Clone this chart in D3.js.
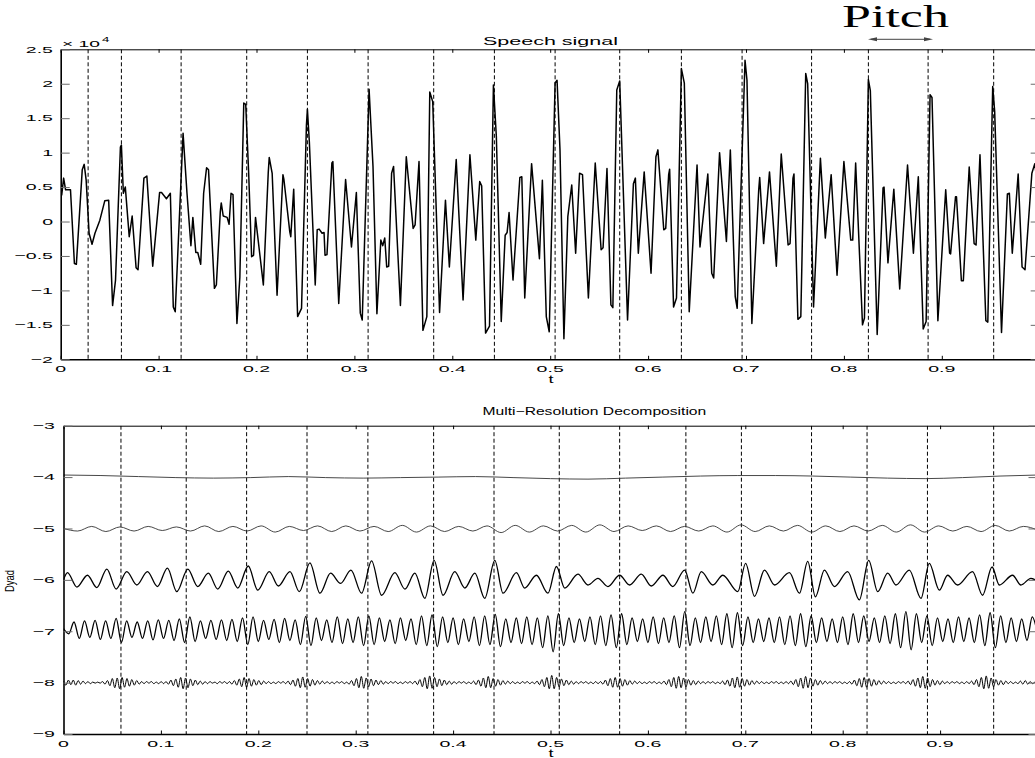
<!DOCTYPE html>
<html><head><meta charset="utf-8">
<script src="https://cdn.jsdelivr.net/npm/d3@7"></script>
<style>html,body{margin:0;padding:0;background:#fff;}svg{display:block;}</style>
</head><body>
<svg id="c" width="1035" height="758"></svg>
<script>
// ---------------- data ----------------
const xTicks = [0,0.1,0.2,0.3,0.4,0.5,0.6,0.7,0.8,0.9];
const xTickLabels = ["0","0.1","0.2","0.3","0.4","0.5","0.6","0.7","0.8","0.9"];
const topYTicks = [2.5,2,1.5,1,0.5,0,-0.5,-1,-1.5,-2];
const topYTickLabels = ["2.5","2","1.5","1","0.5","0","\u22120.5","\u22121","\u22121.5","\u22122"];
const botYTicks = [-3,-4,-5,-6,-7,-8,-9];
const botYTickLabels = ["\u22123","\u22124","\u22125","\u22126","\u22127","\u22128","\u22129"];
const dyadLevels = [-4,-5,-6,-7,-8];

// pitch marks (t)
const pitchTop = [0.028,0.062,0.123,0.190,0.252,0.314,0.381,0.443,0.505,0.571,0.634,0.696,0.767,0.825,0.886,0.953];
const pitchBot = [0.059,0.126,0.188,0.250,0.3125,0.380,0.442,0.509,0.571,0.639,0.696,0.768,0.825,0.887,0.955];

// speech signal [t, value x 1e4]
const speech = [[0.001,0.38],[0.003,0.63],[0.005,0.46],[0.010,0.46],[0.014,-0.61],[0.016,-0.62],[0.022,0.75],[0.024,0.83],[0.026,0.60],[0.029,-0.17],[0.032,-0.33],[0.035,-0.17],[0.040,0.02],[0.045,0.30],[0.049,0.31],[0.053,-1.22],[0.056,-0.85],[0.061,1.08],[0.062,1.11],[0.064,0.41],[0.066,0.50],[0.070,-0.22],[0.073,0.08],[0.077,-0.67],[0.079,-0.70],[0.085,0.63],[0.088,0.66],[0.094,-0.65],[0.101,0.42],[0.103,0.42],[0.108,0.33],[0.112,0.41],[0.115,-1.24],[0.117,-1.31],[0.125,1.28],[0.129,0.41],[0.133,-0.35],[0.135,0.06],[0.138,-0.45],[0.140,-0.45],[0.143,-0.62],[0.146,0.41],[0.149,0.78],[0.151,0.75],[0.157,-0.97],[0.159,-0.92],[0.163,0.14],[0.164,0.27],[0.166,0.08],[0.170,0.06],[0.172,-0.04],[0.174,0.41],[0.176,0.39],[0.180,-1.48],[0.183,-0.81],[0.187,1.72],[0.189,1.70],[0.192,0.70],[0.195,-0.51],[0.197,-0.49],[0.199,0.06],[0.207,-0.92],[0.212,0.71],[0.213,0.93],[0.216,0.70],[0.221,-1.07],[0.227,0.68],[0.228,0.61],[0.234,-0.15],[0.235,-0.22],[0.238,0.47],[0.242,-1.38],[0.246,-1.26],[0.251,1.40],[0.252,1.63],[0.254,1.15],[0.260,-0.92],[0.262,-0.12],[0.264,-0.11],[0.267,-0.17],[0.269,-0.16],[0.270,-0.49],[0.272,-0.48],[0.277,0.85],[0.278,0.87],[0.284,-1.19],[0.291,0.61],[0.297,-0.37],[0.302,0.42],[0.306,-1.33],[0.308,-1.43],[0.315,1.92],[0.319,0.80],[0.323,-1.34],[0.327,-0.27],[0.329,-0.35],[0.331,-0.24],[0.333,-0.66],[0.335,-0.65],[0.338,0.70],[0.340,0.80],[0.347,-1.22],[0.353,0.94],[0.360,-0.10],[0.362,-0.05],[0.366,0.87],[0.370,-1.58],[0.374,-1.38],[0.377,1.88],[0.380,1.74],[0.387,-1.32],[0.393,0.31],[0.397,-0.66],[0.404,0.90],[0.411,-1.14],[0.418,0.97],[0.424,-0.27],[0.428,0.58],[0.430,0.52],[0.434,-1.62],[0.438,-1.52],[0.442,1.98],[0.445,1.23],[0.450,-1.45],[0.454,-0.20],[0.456,-0.16],[0.458,0.13],[0.462,-0.85],[0.469,0.64],[0.471,0.65],[0.474,-1.11],[0.481,0.84],[0.489,-0.54],[0.492,0.60],[0.496,-1.38],[0.499,-1.60],[0.505,2.01],[0.507,2.05],[0.510,1.04],[0.514,-1.70],[0.518,0.07],[0.522,0.53],[0.526,-0.46],[0.530,0.70],[0.533,0.68],[0.539,-1.11],[0.546,0.85],[0.552,-0.41],[0.554,-0.38],[0.558,0.77],[0.562,-1.21],[0.564,-1.25],[0.568,1.91],[0.571,2.04],[0.579,-1.43],[0.585,0.55],[0.587,0.63],[0.590,-0.46],[0.596,0.72],[0.603,-0.75],[0.608,0.94],[0.610,1.04],[0.616,-0.12],[0.618,-0.10],[0.621,0.68],[0.622,0.76],[0.626,-1.24],[0.629,-1.11],[0.634,2.22],[0.637,2.01],[0.642,-1.31],[0.650,0.82],[0.653,-0.37],[0.661,0.69],[0.665,-0.75],[0.667,-0.82],[0.673,1.00],[0.680,-0.29],[0.684,1.04],[0.689,-1.09],[0.691,-1.26],[0.699,2.34],[0.701,2.05],[0.706,-1.48],[0.713,0.46],[0.714,0.64],[0.718,-0.32],[0.724,0.72],[0.731,-0.65],[0.736,0.98],[0.743,-0.34],[0.745,-0.32],[0.748,0.63],[0.749,0.69],[0.753,-1.42],[0.756,-1.38],[0.761,2.15],[0.763,2.00],[0.769,-1.24],[0.776,0.92],[0.781,-0.24],[0.787,0.68],[0.793,-0.78],[0.800,0.87],[0.807,-0.27],[0.809,-0.27],[0.812,0.85],[0.819,-1.50],[0.821,-1.40],[0.825,2.06],[0.827,1.90],[0.834,-1.64],[0.840,0.49],[0.841,0.50],[0.845,-0.60],[0.851,0.47],[0.857,-0.98],[0.865,0.82],[0.871,-0.46],[0.876,0.65],[0.881,-1.56],[0.884,-1.45],[0.888,1.84],[0.890,1.80],[0.896,-1.44],[0.904,0.46],[0.908,-0.46],[0.909,-0.47],[0.914,0.36],[0.915,0.36],[0.920,-0.86],[0.922,-0.86],[0.928,0.79],[0.933,-0.32],[0.935,-0.34],[0.939,0.97],[0.945,-1.44],[0.947,-1.46],[0.952,1.96],[0.954,1.60],[0.961,-1.61],[0.967,0.40],[0.969,0.41],[0.972,-0.46],[0.978,0.69],[0.982,-0.66],[0.985,-0.70],[0.992,0.70],[0.995,0.84],[0.998,0.50],[1.000,0.00]];

// dyad -4 (deviation from level, evenly sampled)
const dyad4 = [0.04,0.03,0.01,-0.01,-0.02,-0.01,0.01,-0.01,-0.02,-0.01,0.0,0.01,-0.01,-0.03,-0.04,-0.02,0.0,0.02,0.03,0.03,0.02,0.0,-0.02,-0.03,-0.01,0.02,0.04];
// dyad -5 (extrema, evenly spaced)
const dyad5 = [0.00,-0.05,0.04,-0.06,0.03,-0.05,0.04,-0.04,0.03,-0.05,0.05,-0.06,0.04,-0.05,0.05,-0.07,0.04,-0.04,0.05,-0.06,0.05,-0.05,0.04,-0.06,0.06,-0.07,0.05,-0.06,0.04,-0.05,0.05,-0.08,0.06,-0.07,0.05,-0.05,0.06,-0.07,0.07,-0.06,0.05,-0.04,0.05,-0.06,0.04,-0.05,0.05,-0.07,0.07,-0.06,0.05,-0.05,0.06,-0.07,0.05,-0.06,0.05,-0.05,0.06,-0.07,0.07,-0.07,0.05,-0.05,0.04,-0.06,0.06,-0.05,0.04,-0.03];
// dyad -6 extrema [t, deviation]
const dyad6 = [[0,0.00],[0.0041,0.14],[0.0137,-0.14],[0.0246,0.09],[0.0342,-0.15],[0.0445,0.21],[0.0541,-0.18],[0.0650,0.16],[0.0753,-0.10],[0.0862,0.16],[0.0964,-0.13],[0.1067,0.23],[0.1163,-0.23],[0.1276,0.21],[0.1378,-0.13],[0.1487,0.13],[0.1584,-0.18],[0.1692,0.17],[0.1789,-0.16],[0.1897,0.27],[0.1994,-0.20],[0.2113,0.16],[0.2205,-0.12],[0.2325,0.16],[0.2421,-0.23],[0.2530,0.33],[0.2633,-0.26],[0.2742,0.13],[0.2845,-0.07],[0.2951,0.19],[0.3060,-0.26],[0.3163,0.37],[0.3266,-0.30],[0.3402,0.14],[0.3505,-0.18],[0.3607,0.13],[0.3710,-0.36],[0.3805,0.38],[0.3897,-0.30],[0.4017,0.16],[0.4120,-0.16],[0.4223,0.13],[0.4325,-0.36],[0.4428,0.38],[0.4513,-0.26],[0.4650,0.14],[0.4735,-0.16],[0.4855,0.09],[0.4974,-0.26],[0.5061,0.26],[0.5146,-0.16],[0.5282,0.11],[0.5385,-0.10],[0.5487,0.03],[0.5590,-0.13],[0.5710,0.09],[0.5812,-0.10],[0.5932,0.11],[0.6035,-0.12],[0.6154,0.09],[0.6256,-0.13],[0.6377,0.19],[0.6462,-0.26],[0.6548,0.16],[0.6667,-0.10],[0.6769,0.09],[0.6923,-0.23],[0.7003,0.32],[0.7095,-0.32],[0.7197,0.19],[0.7300,-0.10],[0.7453,0.14],[0.7556,-0.26],[0.7641,0.36],[0.7720,-0.33],[0.7812,0.19],[0.7915,-0.13],[0.8051,0.16],[0.8171,-0.39],[0.8267,0.38],[0.8359,-0.23],[0.8462,0.13],[0.8547,-0.10],[0.8684,0.19],[0.8804,-0.36],[0.8889,0.32],[0.8992,-0.20],[0.9077,0.09],[0.9179,-0.10],[0.9333,0.16],[0.9436,-0.30],[0.9533,0.25],[0.9608,-0.10],[0.9744,0.09],[0.9830,-0.10],[0.9932,0.03],[1.0,-0.03]];
// dyad -7 extrema, evenly spaced
const dyad7 = [0.05,-0.05,0.18,-0.14,0.20,-0.12,0.21,-0.16,0.20,-0.14,
0.25,-0.22,0.20,-0.12,0.18,-0.14,0.20,-0.17,0.22,-0.14,
0.21,-0.18,0.24,-0.22,0.28,-0.20,0.20,-0.14,0.21,-0.16,
0.22,-0.18,0.23,-0.20,0.26,-0.26,0.28,-0.20,0.21,-0.16,
0.23,-0.22,0.25,-0.18,0.22,-0.26,0.29,-0.28,0.26,-0.18,
0.22,-0.22,0.28,-0.24,0.24,-0.22,0.28,-0.28,0.30,-0.26,
0.26,-0.20,0.22,-0.24,0.26,-0.18,0.24,-0.26,0.30,-0.28,
0.32,-0.30,0.28,-0.22,0.26,-0.26,0.24,-0.20,0.28,-0.28,
0.30,-0.26,0.33,-0.30,0.24,-0.22,0.26,-0.24,0.28,-0.26,
0.26,-0.32,0.30,-0.40,0.34,-0.28,0.26,-0.22,0.24,-0.20,
0.28,-0.26,0.30,-0.28,0.32,-0.32,0.34,-0.26,0.26,-0.20,
0.24,-0.22,0.28,-0.24,0.26,-0.22,0.30,-0.32,0.38,-0.28,
0.26,-0.22,0.28,-0.20,0.30,-0.26,0.34,-0.32,0.36,-0.28,
0.28,-0.22,0.24,-0.20,0.26,-0.22,0.28,-0.26,0.30,-0.28,
0.34,-0.30,0.30,-0.22,0.26,-0.20,0.24,-0.22,0.28,-0.26,
0.34,-0.22,0.30,-0.20,0.26,-0.22,0.30,-0.24,0.34,-0.32,
0.38,-0.36,0.34,-0.22,0.30,-0.28,0.26,-0.20,0.24,-0.22,
0.28,-0.20,0.26,-0.22,0.32,-0.28,0.36,-0.32,0.30,-0.22,
0.26,-0.20,0.24,-0.18,0.28,-0.05];
// dyad -8 extrema, evenly spaced
const dyad8 = [0.03,-0.05,0.05,-0.04,0.05,-0.05,0.04,-0.03,0.03,-0.02,0.02,-0.02,0.01,-0.01,0.01,-0.01,
0.02,-0.03,0.04,-0.06,0.08,-0.10,0.09,-0.12,0.10,-0.09,0.08,-0.07,0.06,-0.05,0.04,-0.03,0.02,-0.02,
0.02,-0.01,0.02,-0.02,0.01,-0.02,0.02,-0.02,
0.02,-0.03,0.05,-0.06,0.07,-0.09,0.10,-0.12,0.09,-0.10,0.07,-0.06,0.05,-0.04,0.03,-0.03,0.02,-0.02,
0.02,-0.01,0.01,-0.02,0.02,-0.01,0.02,-0.02,
0.02,-0.03,0.04,-0.05,0.07,-0.08,0.10,-0.09,0.08,-0.07,0.06,-0.05,0.04,-0.04,0.03,-0.02,0.02,-0.02,
0.01,-0.02,0.02,-0.01,0.02,-0.02,
0.03,-0.04,0.05,-0.07,0.08,-0.10,0.11,-0.09,0.08,-0.07,0.06,-0.05,0.04,-0.03,0.03,-0.02,0.02,-0.02,
0.01,-0.02,0.02,-0.01,0.02,-0.02,0.01,
-0.03,0.04,-0.06,0.08,-0.10,0.12,-0.11,0.09,-0.08,0.07,-0.06,0.05,-0.04,0.04,-0.03,0.02,-0.02,0.02,
-0.01,0.02,-0.02,0.01,-0.02,0.02,-0.01,0.02,-0.02,
0.03,-0.04,0.06,-0.08,0.10,-0.12,0.13,-0.11,0.10,-0.08,0.07,-0.06,0.05,-0.04,0.03,-0.03,0.02,-0.02,
0.02,-0.01,0.02,-0.02,0.01,-0.02,
0.03,-0.04,0.05,-0.07,0.09,-0.10,0.12,-0.10,0.08,-0.07,0.06,-0.05,0.04,-0.03,0.03,-0.02,0.02,-0.02,
0.01,-0.02,0.02,-0.01,0.02,-0.02,0.01,-0.02,
0.03,-0.04,0.06,-0.08,0.10,-0.12,0.14,-0.12,0.10,-0.08,0.07,-0.06,0.05,-0.04,0.03,-0.03,0.02,-0.02,
0.02,-0.01,0.02,-0.02,0.01,-0.02,0.02,-0.02,
0.02,-0.03,0.05,-0.06,0.08,-0.09,0.10,-0.09,0.08,-0.07,0.06,-0.05,0.04,-0.03,0.03,-0.02,0.02,-0.02,
0.01,-0.02,0.02,-0.01,0.02,-0.02,0.01,-0.02,
0.03,-0.04,0.06,-0.08,0.10,-0.11,0.12,-0.10,0.09,-0.08,0.06,-0.05,0.04,-0.04,0.03,-0.02,0.02,-0.02,
0.02,-0.01,0.02,-0.02,0.01,-0.02,
0.03,-0.04,0.05,-0.07,0.09,-0.10,0.11,-0.09,0.08,-0.07,0.06,-0.05,0.04,-0.03,0.03,-0.02,0.02,-0.02,
0.01,-0.02,0.02,-0.01,0.02,-0.02,0.01,-0.02,0.02,-0.02,
0.03,-0.04,0.06,-0.08,0.09,-0.11,0.12,-0.10,0.09,-0.07,0.06,-0.05,0.04,-0.03,0.03,-0.02,0.02,-0.02,
0.02,-0.01,0.02,-0.02,0.01,-0.02,
0.02,-0.03,0.05,-0.06,0.08,-0.09,0.10,-0.09,0.08,-0.07,0.06,-0.05,0.04,-0.03,0.03,-0.02,0.02,-0.02,
0.01,-0.02,0.02,-0.01,0.02,-0.02,
0.03,-0.04,0.06,-0.07,0.09,-0.10,0.12,-0.11,0.09,-0.08,0.06,-0.05,0.04,-0.04,0.03,-0.02,0.02,-0.02,
0.02,-0.01,0.02,-0.02,0.01,-0.02,0.02,-0.02,
0.03,-0.04,0.06,-0.08,0.10,-0.12,0.13,-0.11,0.09,-0.08,0.06,-0.05,0.04,-0.04,0.03,-0.02,0.02,-0.02,
0.01,-0.02,0.03,-0.03,0.04,-0.03,0.02,-0.02,0.01,-0.01];

// ---------------- drawing ----------------
const svg = d3.select('#c');
const SANS = '"Liberation Sans", Arial, Helvetica, sans-serif';
const SERIF = '"Liberation Serif", "Times New Roman", serif';

const T = {x0:60.7, x1:1039.7, y0:49.3, y1:359.3};
const B = {x0:63.5, x1:1037.5, y0:425.7, y1:734};
const xT = d3.scaleLinear().domain([0,1]).range([T.x0,T.x1]);
const yT = d3.scaleLinear().domain([-2,2.5]).range([T.y1,T.y0]);
const xB = d3.scaleLinear().domain([0,1]).range([B.x0,B.x1]);
const yB = d3.scaleLinear().domain([-9,-3]).range([B.y1,B.y0]);

function label(x, y, str, o) {
  const t = svg.append('text').attr('x',0).attr('y',0)
    .attr('font-family', o.family || SANS)
    .attr('font-size', o.size).attr('fill', o.fill || '#000').text(str);
  const w = t.node().getComputedTextLength();
  const sx = o.width ? o.width / w : (o.sx || 1);
  const a = o.anchor || 'start';
  const dx = a === 'middle' ? -w*sx/2 : (a === 'end' ? -w*sx : 0);
  let tr;
  if (o.rotate) tr = `translate(${x},${y}) rotate(${o.rotate}) translate(${dx},0) scale(${sx},1)`;
  else tr = `translate(${x+dx},${y}) scale(${sx},1)`;
  t.attr('transform', tr);
  return t;
}

const defs = svg.append('defs');
defs.append('clipPath').attr('id','clipT').append('rect')
  .attr('x',T.x0).attr('y',T.y0).attr('width',T.x1-T.x0).attr('height',T.y1-T.y0);
defs.append('clipPath').attr('id','clipB').append('rect')
  .attr('x',B.x0).attr('y',B.y0).attr('width',B.x1-B.x0).attr('height',B.y1-B.y0);

function drawAxes(R, x, y, yticks) {
  const g = svg.append('g');
  const styleX = s => { s.selectAll('.tick line').attr('stroke','#000').attr('stroke-width',1); };
  const styleY = s => { s.selectAll('.tick line').attr('stroke','#6a6a6a').attr('stroke-width',1); };
  const bot = g.append('g').attr('transform',`translate(0,${R.y1})`)
    .call(d3.axisBottom(x).tickValues(xTicks).tickSize(-3.5).tickSizeOuter(0).tickFormat(''));
  bot.select('.domain').attr('stroke','#000').attr('stroke-width',1.6);
  styleX(bot);
  const top = g.append('g').attr('transform',`translate(0,${R.y0})`)
    .call(d3.axisTop(x).tickValues(xTicks).tickSize(-3.5).tickSizeOuter(0).tickFormat(''));
  top.select('.domain').attr('stroke','#000').attr('stroke-width',1);
  styleX(top);
  const left = g.append('g').attr('transform',`translate(${R.x0},0)`)
    .call(d3.axisLeft(y).tickValues(yticks).tickSize(-9).tickSizeOuter(0).tickFormat(''));
  left.select('.domain').attr('stroke','#000').attr('stroke-width',1.6);
  styleY(left);
  const right = g.append('g').attr('transform',`translate(${R.x1},0)`)
    .call(d3.axisRight(y).tickValues(yticks).tickSize(-9).tickSizeOuter(0).tickFormat(''));
  right.select('.domain').attr('stroke','#000').attr('stroke-width',1);
  styleY(right);
}

// ---- top plot ----
const gT = svg.append('g').attr('clip-path','url(#clipT)');
gT.selectAll('line.pitch').data(pitchTop).join('line').attr('class','pitch')
  .attr('x1',d=>xT(d)).attr('x2',d=>xT(d)).attr('y1',T.y0).attr('y2',T.y1)
  .attr('stroke','#000').attr('stroke-width',1).attr('stroke-dasharray','4,2.5');
gT.append('path').datum(speech)
  .attr('d', d3.line().x(d=>xT(d[0])).y(d=>yT(d[1])))
  .attr('fill','none').attr('stroke','#000').attr('stroke-width',1.5).attr('stroke-linejoin','round');
drawAxes(T, xT, yT, topYTicks);

// ---- bottom plot ----
const gB = svg.append('g').attr('clip-path','url(#clipB)');
gB.selectAll('line.pitch').data(pitchBot).join('line').attr('class','pitch')
  .attr('x1',d=>xB(d)).attr('x2',d=>xB(d)).attr('y1',B.y0).attr('y2',B.y1)
  .attr('stroke','#000').attr('stroke-width',1).attr('stroke-dasharray','4,2.5');

const even = arr => arr.map((v,i)=>[i/(arr.length-1), v]);
const dyadSeries = [
  {lev:dyadLevels[0], pts:even(dyad4), w:0.9, c:'#333'},
  {lev:dyadLevels[1], pts:even(dyad5), w:0.9, c:'#333'},
  {lev:dyadLevels[2], pts:dyad6, w:1.3, c:'#000'},
  {lev:dyadLevels[3], pts:even(dyad7), w:1.3, c:'#000'},
  {lev:dyadLevels[4], pts:even(dyad8), w:1.0, c:'#000'}
];
dyadSeries.forEach(s=>{
  gB.append('path').datum(s.pts)
    .attr('d', d3.line().curve(d3.curveMonotoneX).x(d=>xB(d[0])).y(d=>yB(s.lev + d[1])))
    .attr('fill','none').attr('stroke',s.c).attr('stroke-width',s.w);
});
drawAxes(B, xB, yB, botYTicks);

// ---- labels ----
const TS = 9.3, SX = 2.1;
xTicks.forEach((v,i)=>{
  label(xT(v), 371.5, xTickLabels[i], {size:TS, sx:SX, anchor:'middle'});
  label(xB(v), 746.5, xTickLabels[i], {size:TS, sx:SX, anchor:'middle'});
});
topYTicks.forEach((v,i)=> label(53, yT(v)+3.3, topYTickLabels[i], {size:TS, sx:SX, anchor:'end'}));
botYTicks.forEach((v,i)=> label(55, yB(v)+3.3, botYTickLabels[i], {size:TS, sx:SX, anchor:'end'}));

label(62, 47, "\u00d7 10", {size:TS, width:38});
label(102, 41.5, "4", {size:7, sx:1.9});

label(550.5, 45, "Speech signal", {size:10.5, width:135, anchor:'middle'});
label(594.5, 414.5, "Multi\u2212Resolution Decomposition", {size:10.5, width:224, anchor:'middle'});
label(551, 383, "t", {size:10, sx:1.8, anchor:'middle'});
label(551, 757, "t", {size:10, sx:1.8, anchor:'middle'});
label(14, 581, "Dyad", {size:12.5, width:22, anchor:'middle', rotate:-90});

label(842, 27, "Pitch", {size:31, width:107, family:SERIF});
// arrow
svg.append('line').attr('x1',871).attr('x2',930).attr('y1',39.3).attr('y2',39.3)
  .attr('stroke','#444').attr('stroke-width',1);
svg.append('path').attr('d','M868,39.3 L877,37.3 L877,41.3 Z').attr('fill','#444');
svg.append('path').attr('d','M933,39.3 L924,37.3 L924,41.3 Z').attr('fill','#444');
</script>
</body></html>
